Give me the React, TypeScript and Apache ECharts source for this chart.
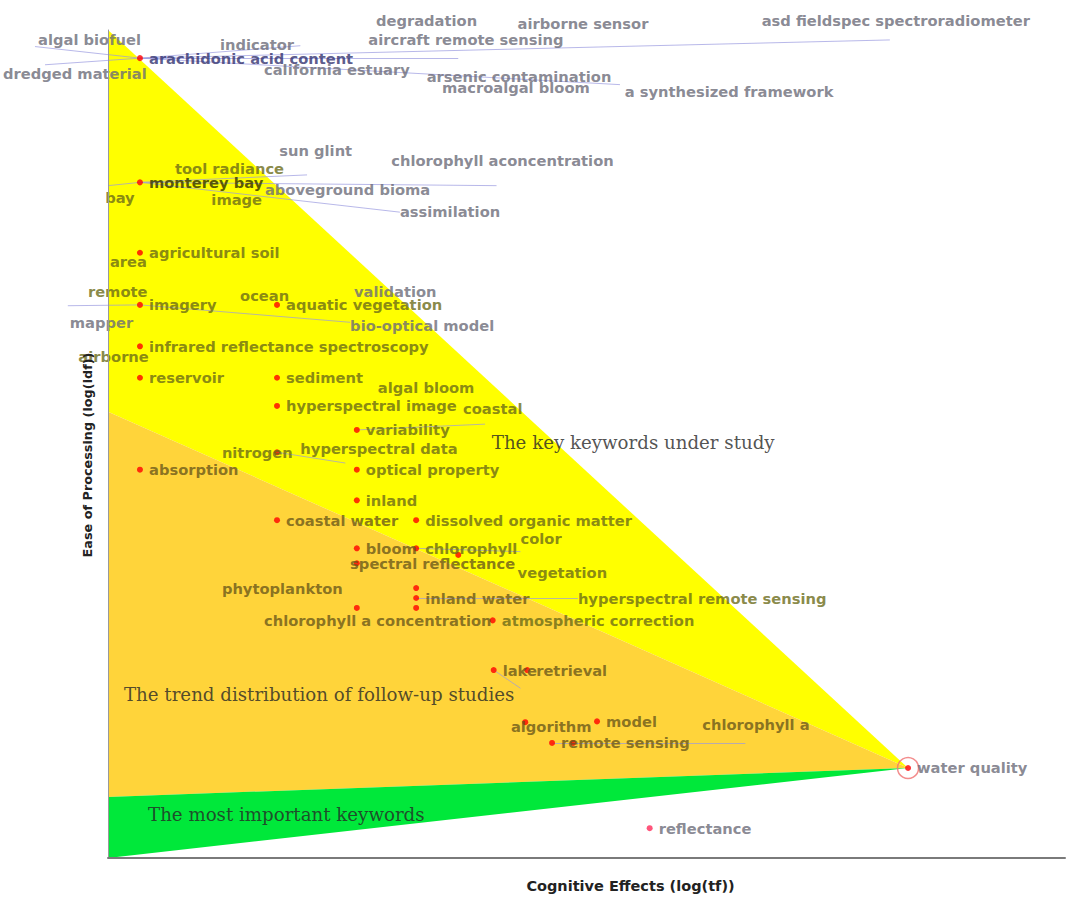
import React, { useEffect, useRef } from "react";
import * as echarts from "echarts";

// Keywords drawn as red dots with their label to the right: [name, log(tf), log(idf)]
const dotKeywords: [string, number, number][] = [
  ["arachidonic acid content", 0.334, 9.66],
  ["monterey bay", 0.334, 8.16],
  ["agricultural soil", 0.334, 7.31],
  ["imagery", 0.334, 6.68],
  ["aquatic vegetation", 1.766, 6.68],
  ["infrared reflectance spectroscopy", 0.334, 6.18],
  ["reservoir", 0.334, 5.8],
  ["sediment", 1.766, 5.8],
  ["hyperspectral image", 1.766, 5.46],
  ["variability", 2.6, 5.17],
  ["absorption", 0.334, 4.69],
  ["optical property", 2.6, 4.69],
  ["inland", 2.6, 4.32],
  ["coastal water", 1.766, 4.08],
  ["dissolved organic matter", 3.22, 4.08],
  ["bloom", 2.6, 3.74],
  ["chlorophyll", 3.22, 3.74],
  ["inland water", 3.22, 3.14],
  ["atmospheric correction", 4.02, 2.87],
  ["lake", 4.03, 2.27],
  ["retrieval", 4.38, 2.27],
  ["model", 5.11, 1.65],
  ["remote sensing", 4.64, 1.39],
  ["water quality", 8.36, 1.087],
  ["reflectance", 5.66, 0.36],
];

// Dots whose keyword label is placed elsewhere
const extraDots: [number, number][] = [
  [1.766, 4.9],
  [2.6, 3.56],
  [3.66, 3.66],
  [3.22, 3.26],
  [3.22, 3.02],
  [2.6, 3.02],
  [4.36, 1.64],
  [4.86, 1.39],
];

// Keyword labels placed away from their dot: [name, x of left edge, y]
const freeLabels: [string, number, number][] = [
  ["algal biofuel", -0.731, 9.88],
  ["dredged material", -1.097, 9.48],
  ["indicator", 1.17, 9.82],
  ["degradation", 2.8, 10.12],
  ["airborne sensor", 4.28, 10.08],
  ["asd fieldspec spectroradiometer", 6.83, 10.11],
  ["aircraft remote sensing", 2.72, 9.89],
  ["california estuary", 1.63, 9.52],
  ["arsenic contamination", 3.33, 9.44],
  ["macroalgal bloom", 3.49, 9.3],
  ["a synthesized framework", 5.4, 9.26],
  ["sun glint", 1.79, 8.54],
  ["tool radiance", 0.7, 8.33],
  ["chlorophyll aconcentration", 2.96, 8.42],
  ["aboveground bioma", 1.64, 8.07],
  ["bay", -0.03, 7.98],
  ["image", 1.08, 7.95],
  ["assimilation", 3.05, 7.81],
  ["area", 0.02, 7.2],
  ["remote", -0.21, 6.84],
  ["mapper", -0.4, 6.47],
  ["ocean", 1.38, 6.79],
  ["validation", 2.57, 6.84],
  ["bio-optical model", 2.53, 6.43],
  ["airborne", -0.31, 6.06],
  ["algal bloom", 2.82, 5.68],
  ["coastal", 3.71, 5.43],
  ["nitrogen", 1.19, 4.9],
  ["hyperspectral data", 2.01, 4.94],
  ["color", 4.31, 3.86],
  ["spectral reflectance", 2.53, 3.56],
  ["vegetation", 4.28, 3.45],
  ["phytoplankton", 1.19, 3.25],
  ["hyperspectral remote sensing", 4.91, 3.14],
  ["chlorophyll a concentration", 1.63, 2.87],
  ["algorithm", 4.21, 1.59],
  ["chlorophyll a", 6.21, 1.61],
];

// Links between a dot and a displaced label
const links: [number, number][][] = [
  [[0.334, 9.66], [-0.763, 9.8]],
  [[0.334, 9.66], [-0.658, 9.58]],
  [[0.334, 9.66], [8.17, 9.88]],
  [[0.334, 9.66], [3.66, 9.66]],
  [[0.334, 9.66], [5.35, 9.34]],
  [[0.334, 9.66], [2.01, 9.81]],
  [[0.334, 8.16], [2.08, 8.25]],
  [[0.334, 8.16], [4.06, 8.12]],
  [[0.334, 8.16], [3.05, 7.8]],
  [[0.334, 8.16], [0.0, 8.12]],
  [[0.334, 6.68], [-0.42, 6.67]],
  [[0.334, 6.68], [2.53, 6.47]],
  [[2.6, 5.17], [3.94, 5.24]],
  [[1.766, 4.9], [2.48, 4.77]],
  [[3.22, 3.14], [4.91, 3.14]],
  [[3.22, 3.74], [4.31, 3.7]],
  [[4.64, 1.39], [6.66, 1.39]],
  [[4.03, 2.27], [4.31, 2.05]],
];

const highlighted = ["arachidonic acid content", "monterey bay"];

// Zones (vertices in axis units)
const keyZone: number[][] = [[0, 10], [8.36, 1.087], [0, 5.39]];
const trendZone: number[][] = [[0, 5.39], [8.36, 1.087], [0, 0.737]];
const importantZone: number[][] = [[0, 0.737], [8.36, 1.087], [0, 0]];

const zoneTitles: [string, number, number][] = [
  ["The key keywords under study", 4.01, 5.02],
  ["The trend distribution of follow-up studies", 0.167, 1.98],
  ["The most important keywords", 0.418, 0.52],
];

function inTri(p: number[], t: number[][]) {
  const s = (a: number[], b: number[], c: number[]) =>
    (a[0] - c[0]) * (b[1] - c[1]) - (b[0] - c[0]) * (a[1] - c[1]);
  const d1 = s(p, t[0], t[1]);
  const d2 = s(p, t[1], t[2]);
  const d3 = s(p, t[2], t[0]);
  const neg = d1 < 0 || d2 < 0 || d3 < 0;
  const pos = d1 > 0 || d2 > 0 || d3 > 0;
  return !(neg && pos);
}

export default function App() {
  const ref = useRef<HTMLDivElement>(null);
  useEffect(() => {
    if (!ref.current) return;
    const chart = echarts.init(ref.current, null, { renderer: "svg" });
    const zones = [
      { pts: keyZone, color: "#ffff00", text: "#6b6b18", hi: "#303000" },
      { pts: trendZone, color: "#ffd43a", text: "#6b591b", hi: "#30280c" },
      { pts: importantZone, color: "#00e83a", text: "#00611b", hi: "#002a10" },
    ];
    // label colour as if the gray text were seen through the zone colour
    const textColor = (name: string, x: number, y: number) => {
      const mid = [x + name.length * 0.05, y];
      const hi = highlighted.includes(name);
      for (const z of zones) if (inTri(mid, z.pts)) return hi ? z.hi : z.text;
      return hi ? "#30306e" : "#6b6b78";
    };
    const labelFont = {
      fontFamily: "DejaVu Sans",
      fontSize: 14.7,
      fontWeight: "bold" as const,
    };
    const option: any = {
      animation: false,
      backgroundColor: "#ffffff",
      grid: { left: 108, right: 7, top: 30, bottom: 40, outerBoundsMode: "none" },
      xAxis: {
        type: "value",
        min: 0,
        max: 10,
        z: 5,
        axisLine: { show: true, onZero: false, lineStyle: { color: "#7a7a7a", width: 2 } },
        axisTick: { show: false },
        axisLabel: { show: false },
        splitLine: { show: false },
        name: "Cognitive Effects (log(tf))",
        nameLocation: "middle",
        nameGap: 20,
        nameTextStyle: {
          fontFamily: "DejaVu Sans",
          fontSize: 14.5,
          fontWeight: "bold",
          color: "#222",
          padding: [0, 0, 0, 88],
        },
      },
      yAxis: {
        type: "value",
        min: 0,
        max: 10,
        z: 5,
        axisLine: { show: true, onZero: false, lineStyle: { color: "#9a9a9a", width: 1 } },
        axisTick: { show: false },
        axisLabel: { show: false },
        splitLine: { show: false },
        name: "Ease of Processing (log(idf))",
        nameLocation: "middle",
        nameRotate: 90,
        nameGap: 14,
        nameTextStyle: {
          fontFamily: "DejaVu Sans",
          fontSize: 12.8,
          fontWeight: "bold",
          color: "#222",
          padding: [0, 22, 0, 0],
        },
      },
      series: [
        {
          type: "custom",
          silent: true,
          clip: false,
          z: 0,
          data: zones.map(() => [8.36, 1.087]),
          renderItem: (params: any, api: any) => {
            const zn = zones[params.dataIndex];
            return {
              type: "polygon",
              shape: { points: zn.pts.map((p) => api.coord(p)) },
              style: { fill: zn.color },
            };
          },
        },
        {
          type: "lines",
          coordinateSystem: "cartesian2d",
          silent: true,
          clip: false,
          z: 1,
          lineStyle: { color: "#9a9ae0", width: 1, opacity: 0.7 },
          data: links.map((l) => ({ coords: l })),
        },
        {
          type: "scatter",
          silent: true,
          clip: false,
          z: 3,
          symbolSize: 6,
          itemStyle: { color: "#ff0000" },
          data: dotKeywords.map(([n, x, y]) => ({
            value: [x, y],
            name: n,
            itemStyle: n === "reflectance" ? { color: "#ff2a5a" } : undefined,
            label: { color: textColor(n, x + 0.08, y) },
          })),
          label: { show: true, position: "right", distance: 6, formatter: "{b}", ...labelFont },
        },
        {
          type: "scatter",
          silent: true,
          clip: false,
          z: 3,
          symbolSize: 6,
          itemStyle: { color: "#ff0000" },
          data: extraDots,
        },
        {
          type: "scatter",
          silent: true,
          clip: false,
          z: 3,
          symbol: "circle",
          symbolSize: 21,
          itemStyle: { color: "rgba(0,0,0,0)", borderColor: "#f07070", borderWidth: 1.5 },
          data: dotKeywords.filter((d) => d[0] === "water quality").map((d) => [d[1], d[2]]),
        },
        {
          type: "scatter",
          silent: true,
          clip: false,
          z: 3,
          symbolSize: 0,
          data: freeLabels.map(([n, x, y]) => ({
            value: [x, y],
            name: n,
            label: { color: textColor(n, x, y) },
          })),
          label: { show: true, position: "right", distance: 0, formatter: "{b}", ...labelFont },
        },
        {
          type: "scatter",
          silent: true,
          clip: false,
          z: 12,
          symbolSize: 0,
          data: zoneTitles.map(([n, x, y]) => ({ value: [x, y], name: n })),
          label: {
            show: true,
            position: "right",
            distance: 0,
            formatter: "{b}",
            fontFamily: "DejaVu Serif",
            fontSize: 18.2,
            color: "#262626",
          },
        },
      ],
    };
    chart.setOption(option);
    return () => chart.dispose();
  }, []);
  return (
    <div
      ref={ref}
      style={{ position: "fixed", left: 0, top: 0, width: 1072, height: 898 }}
    />
  );
}
